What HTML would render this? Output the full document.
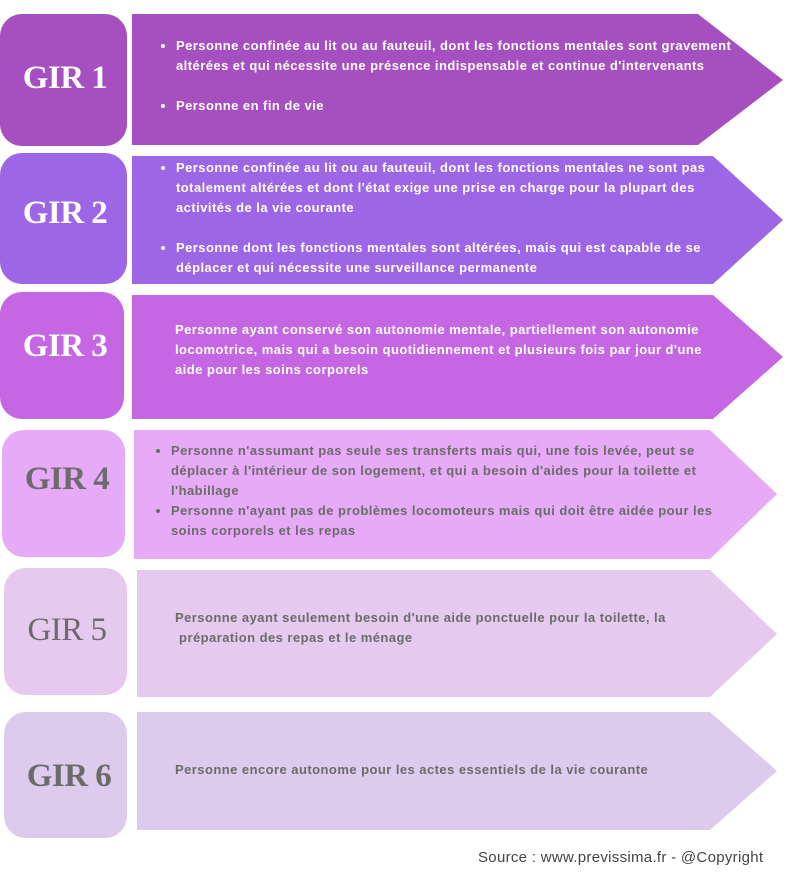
<!DOCTYPE html>
<html><head><meta charset="utf-8"><style>
body{margin:0;background:#fff;width:800px;height:887px;overflow:hidden;position:relative;font-family:"Liberation Sans",sans-serif}
svg{position:absolute;left:0;top:0}
.t{position:absolute;font-weight:bold;font-size:13px;letter-spacing:0.45px;line-height:20px;color:#fff;white-space:nowrap}
.t ul{margin:0;padding-left:18px}
.t li{margin:0}
.g{position:absolute;font-family:"Liberation Serif",serif;font-weight:bold;font-size:33px;width:130px;text-align:center;color:#fff;letter-spacing:-0.5px}
.d{color:#6b6b6b}
</style></head><body>
<svg width="800" height="887">
<rect x="0" y="14" width="127" height="132" rx="22" fill="#a64fc0"/>
<polygon points="132,14 698,14 783,80 698,145 132,145" fill="#a64fc0"/>
<rect x="0" y="153" width="127" height="131" rx="22" fill="#9c66e6"/>
<polygon points="132,156 713,156 783,220 713,284 132,284" fill="#9c66e6"/>
<rect x="0" y="292" width="124" height="127" rx="22" fill="#c566e2"/>
<polygon points="132,295 713,295 783,357 713,419 132,419" fill="#c566e2"/>
<rect x="2" y="430" width="123" height="127" rx="22" fill="#e6aaf6"/>
<polygon points="134,430 710,430 777,494 710,559 134,559" fill="#e6aaf6"/>
<rect x="4" y="568" width="123" height="127" rx="22" fill="#e6c9ee"/>
<polygon points="137,570 710,570 777,634 710,697 137,697" fill="#e6c9ee"/>
<rect x="4" y="712" width="123" height="126" rx="22" fill="#ddcbee"/>
<polygon points="137,712 710,712 777,771 710,830 137,830" fill="#ddcbee"/>
</svg>
<div class="g" style="left:0;top:60px">GIR 1</div>
<div class="g" style="left:0;top:195px">GIR 2</div>
<div class="g" style="left:0;top:328px">GIR 3</div>
<div class="g d" style="left:2px;top:461px">GIR 4</div>
<div class="g d" style="left:2px;top:612px;font-weight:normal">GIR 5</div>
<div class="g d" style="left:4px;top:758px">GIR 6</div>

<div class="t" style="left:158px;top:36px"><ul>
<li>Personne confinée au lit ou au fauteuil, dont les fonctions mentales sont gravement<br>altérées et qui nécessite une présence indispensable et continue d'intervenants</li>
<li style="margin-top:20px">Personne en fin de vie</li></ul></div>

<div class="t" style="left:158px;top:158px"><ul>
<li>Personne confinée au lit ou au fauteuil, dont les fonctions mentales ne sont pas<br>totalement altérées et dont l'état exige une prise en charge pour la plupart des<br>activités de la vie courante</li>
<li style="margin-top:20px">Personne dont les fonctions mentales sont altérées, mais qui est capable de se<br>déplacer et qui nécessite une surveillance permanente</li></ul></div>

<div class="t" style="left:175px;top:320px">Personne ayant conservé son autonomie mentale, partiellement son autonomie<br>locomotrice, mais qui a besoin quotidiennement et plusieurs fois par jour d'une<br>aide pour les soins corporels</div>

<div class="t d" style="left:153px;top:441px"><ul>
<li>Personne n'assumant pas seule ses transferts mais qui, une fois levée, peut se<br>déplacer à l'intérieur de son logement, et qui a besoin d'aides pour la toilette et<br>l'habillage</li>
<li>Personne n'ayant pas de problèmes locomoteurs mais qui doit être aidée pour les<br>soins corporels et les repas</li></ul></div>

<div class="t d" style="left:175px;top:608px">Personne ayant seulement besoin d'une aide ponctuelle pour la toilette, la<br>&nbsp;préparation des repas et le ménage</div>

<div class="t d" style="left:175px;top:760px">Personne encore autonome pour les actes essentiels de la vie courante</div>

<div style="position:absolute;left:478px;top:849px;font-size:15px;letter-spacing:0.3px;color:#444">Source : www.previssima.fr - @Copyright</div>
</body></html>
